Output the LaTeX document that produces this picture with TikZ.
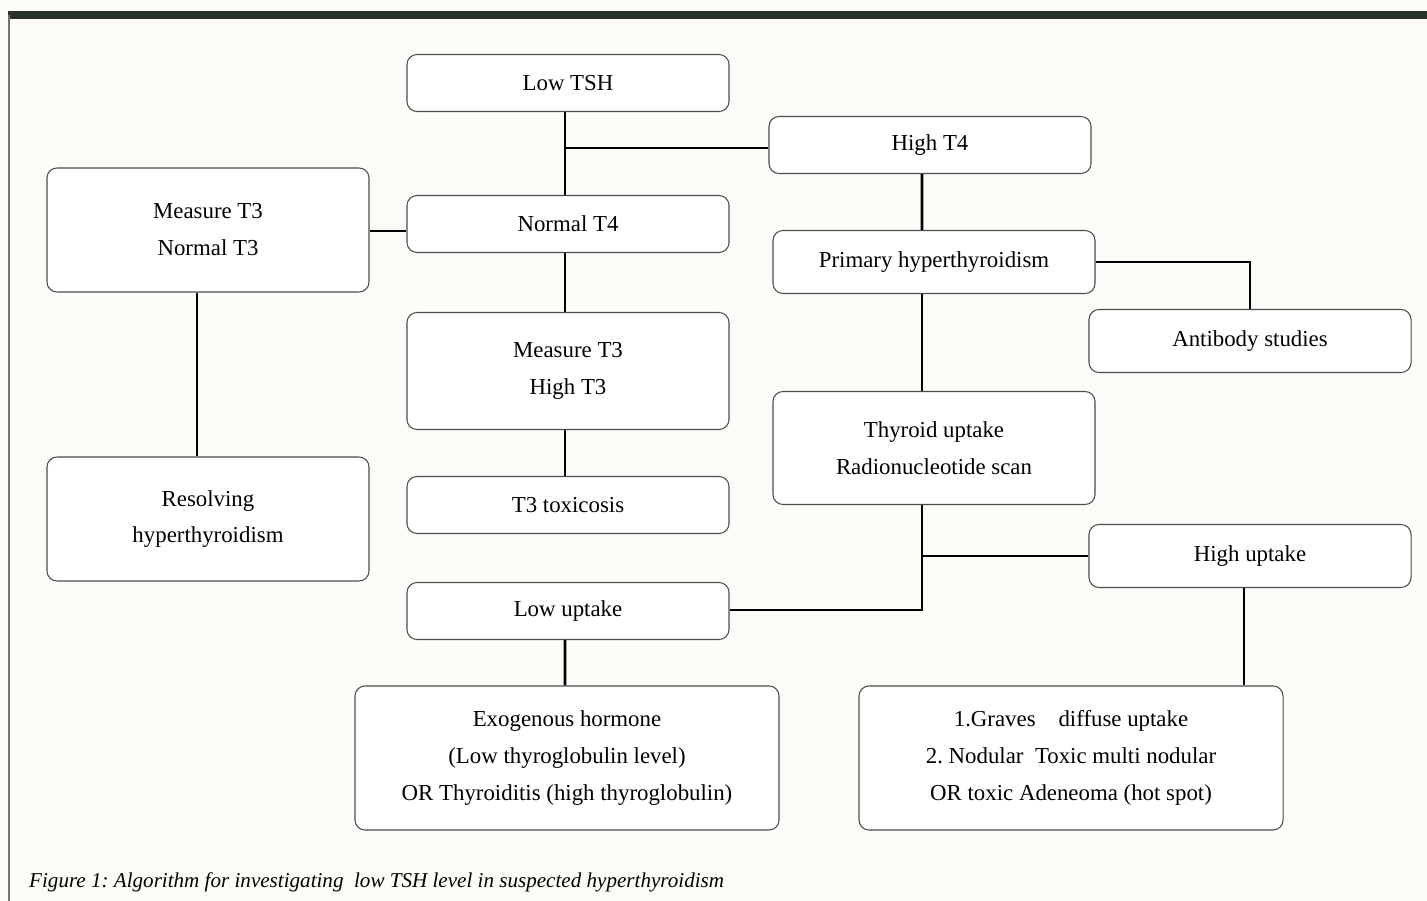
\documentclass[tikz,border=0pt]{standalone}
\usepackage{fontspec}
\setmainfont{Liberation Serif}
\definecolor{paper}{RGB}{253,251,248}
\definecolor{barcol}{RGB}{42,48,42}
\frenchspacing
\begin{document}
\begin{tikzpicture}[
x=0.2mm, y=-0.2mm,
font=\fontsize{13}{21}\selectfont,
blocknode/.style={rectangle, rounded corners=2mm, draw=black!70, line width=0.6pt, fill=white, align=center, inner sep=0pt, minimum width=64.4mm, minimum height=11.4mm},
midnode/.style={blocknode, minimum height=12.6mm},
tallnode/.style={blocknode, minimum height=24mm},
widenode/.style={blocknode, minimum width=84.8mm, minimum height=28.8mm},
link/.style={line width=1.5pt}
]
\fill[paper] (0,0) rectangle (1427,901);
\useasboundingbox (0,0) rectangle (1427,901);
\fill[barcol] (8,11) rectangle (1427,19);
\draw[black!55, line width=0.8pt] (9,15) -- (9,901);

\node[blocknode] (TSH) at (568,83) {Low TSH};
\node[blocknode] (HT4) at (930,145) {High T4};
\node[blocknode] (NT4) at (568,224) {Normal T4};
\node[tallnode, minimum height=24.8mm] (NT3) at (208,230) {Measure T3\\Normal T3};
\node[midnode] (PRI) at (934,262) {Primary hyperthyroidism};
\node[midnode] (AB) at (1250,341) {Antibody studies};
\node[tallnode, minimum height=23.4mm] (HT3) at (568,371) {Measure T3\\High T3};
\node[tallnode, minimum height=22.6mm] (UP) at (934,448) {Thyroid uptake\\Radionucleotide scan};
\node[tallnode, minimum height=24.8mm] (RES) at (208,519) {Resolving\\hyperthyroidism};
\node[blocknode] (TOX) at (568,505) {T3 toxicosis};
\node[midnode] (HU) at (1250,556) {High uptake};
\node[blocknode] (LU) at (568,611) {Low uptake};
\node[widenode] (EXO) at (567,758) {Exogenous hormone\\(Low thyroglobulin level)\\OR Thyroiditis (high thyroglobulin)};
\node[widenode] (GRV) at (1071,758) {1.Graves\quad diffuse uptake\\2. Nodular\ \ Toxic multi nodular\\OR toxic Adeneoma (hot spot)};

\node[anchor=west, font=\fontsize{12}{14}\itshape] (CAP) at (23,882) {Figure 1: Algorithm for investigating\ \ low TSH level in suspected hyperthyroidism};

% left column
\draw[link] ([xshift=-0.6mm]TSH.south) -- ([xshift=-0.6mm]NT4.north);
\draw[link] ([yshift=-0.6mm]HT4.west) -- ([xshift=-0.6mm, yshift=-0.6mm]HT4.west -| TSH.south);
\draw[link] ([yshift=-1.4mm]NT4.west) -- ([yshift=-1.4mm]NT4.west -| NT3.east);
\draw[link] ([xshift=-2.2mm]NT3.south) -- ([xshift=-2.2mm]RES.north);
\draw[link] ([xshift=-0.6mm]NT4.south) -- ([xshift=-0.6mm]HT3.north);
\draw[link] ([xshift=-0.6mm]HT3.south) -- ([xshift=-0.6mm]TOX.north);

% right column
\draw[link] ([xshift=-1.6mm]HT4.south) -- ([xshift=-2.4mm]PRI.north);
\draw[link] (PRI.east) -| (AB.north);
\draw[link] ([xshift=-2.4mm]PRI.south) -- ([xshift=-2.4mm]UP.north);
\draw[link] ([xshift=-2.4mm]UP.south) |- ([yshift=0.2mm]LU.east);
\draw[link] (HU.west) -- ([xshift=-2.4mm]HU.west -| UP.south);
\draw[link] ([xshift=-1.2mm]HU.south) -- ([xshift=-1.2mm]HU.south |- GRV.north);
\draw[link] ([xshift=-0.6mm]LU.south) -- ([xshift=-0.4mm]EXO.north);
\end{tikzpicture}
\end{document}
